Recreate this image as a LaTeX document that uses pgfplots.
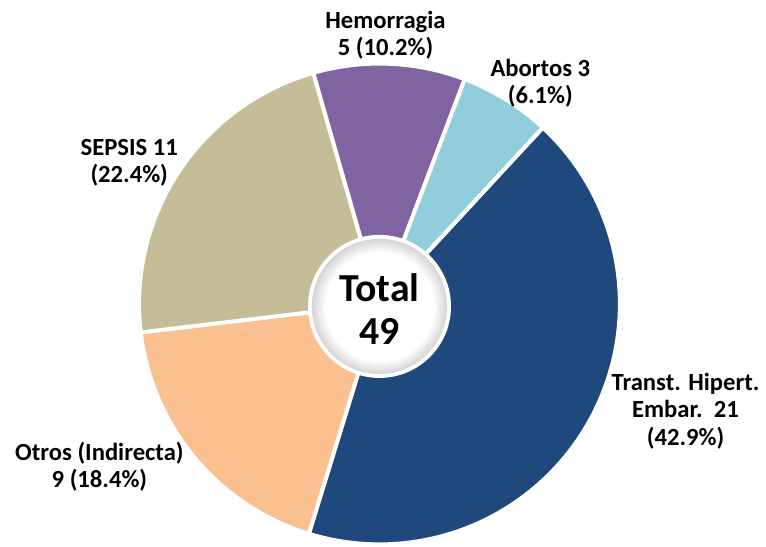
\documentclass[border=0pt]{standalone}
\usepackage{fontspec}
\setmainfont{Carlito}
\usepackage{pgfplots}
\usepackage{pgfplotstable}
\pgfplotsset{compat=1.18}
\definecolor{cTH}{HTML}{1F497D}
\definecolor{cOtros}{HTML}{FAC090}
\definecolor{cSep}{HTML}{C4BD97}
\definecolor{cHem}{HTML}{8064A2}
\definecolor{cAbo}{HTML}{92CDDC}
\pgfdeclareradialshading{hole}{\pgfpoint{0bp}{0bp}}{%
  color(0bp)=(white); color(20bp)=(white); color(24.5bp)=(gray!30); color(25bp)=(gray!35); color(50bp)=(gray!35)}
\tikzset{lbl/.style={font=\bfseries\fontsize{12.4}{13.6}\selectfont, align=center, text=black}}

% muertes por causa
\pgfplotstableread{
causa valor
Transt 21
Otros 9
SEPSIS 11
Hemorragia 5
Abortos 3
}\datos

\pgfplotstablegetelem{0}{valor}\of\datos \let\vA\pgfplotsretval
\pgfplotstablegetelem{1}{valor}\of\datos \let\vB\pgfplotsretval
\pgfplotstablegetelem{2}{valor}\of\datos \let\vC\pgfplotsretval
\pgfplotstablegetelem{3}{valor}\of\datos \let\vD\pgfplotsretval
\pgfplotstablegetelem{4}{valor}\of\datos \let\vE\pgfplotsretval
\pgfmathsetmacro{\tot}{\vA+\vB+\vC+\vD+\vE}
% angles, clockwise from 47.2 deg
\pgfmathsetmacro{\aA}{47.2}
\pgfmathsetmacro{\aB}{\aA-360*\vA/\tot}
\pgfmathsetmacro{\aC}{\aB-360*\vB/\tot}
\pgfmathsetmacro{\aD}{\aC-360*\vC/\tot}
\pgfmathsetmacro{\aE}{\aD-360*\vD/\tot}
\pgfmathsetmacro{\aF}{\aE-360*\vE/\tot}

\begin{document}
\begin{tikzpicture}
\begin{axis}[
  hide axis,
  x=121pt, y=121pt,
  xmin=-1.5785, xmax=1.5868,
  ymin=-1.01, ymax=1.2645,
  clip=false,
  every axis plot/.append style={draw=white, line width=2pt, line join=round, samples=90, variable=\t},
]
\path (axis cs:-1.5785,-1.01) rectangle (axis cs:1.5868,1.2645);
\addplot[fill=cTH, domain=\aB:\aA] ({cos(\t)},{sin(\t)}) -- (axis cs:0,0) -- cycle;
\addplot[fill=cOtros, domain=\aC:\aB] ({cos(\t)},{sin(\t)}) -- (axis cs:0,0) -- cycle;
\addplot[fill=cSep, domain=\aD:\aC] ({cos(\t)},{sin(\t)}) -- (axis cs:0,0) -- cycle;
\addplot[fill=cHem, domain=\aE:\aD] ({cos(\t)},{sin(\t)}) -- (axis cs:0,0) -- cycle;
\addplot[fill=cAbo, domain=\aF:\aE] ({cos(\t)},{sin(\t)}) -- (axis cs:0,0) -- cycle;

% centre hole
\fill[white] (axis cs:0,-0.01) circle[radius=36pt];
\shade[shading=hole] (axis cs:0,-0.01) circle[radius=34pt];

\node[font=\bfseries\fontsize{20}{21.5}\selectfont, align=center] at (axis cs:0,-0.02) {Total\\49};

\node[lbl] at (axis cs:0.025,1.12) {Hemorragia\\5 (10.2\%)};
\node[lbl] at (axis cs:0.669,0.917) {Abortos 3\\(6.1\%)};
\node[lbl] at (axis cs:-1.041,0.587) {SEPSIS 11\\(22.4\%)};
\node[lbl] at (axis cs:1.273,-0.446) {Transt. Hipert.\\Embar.\ \ 21\\(42.9\%)};
\node[lbl] at (axis cs:-1.165,-0.678) {Otros (Indirecta)\\9 (18.4\%)};
\end{axis}
\end{tikzpicture}
\end{document}
